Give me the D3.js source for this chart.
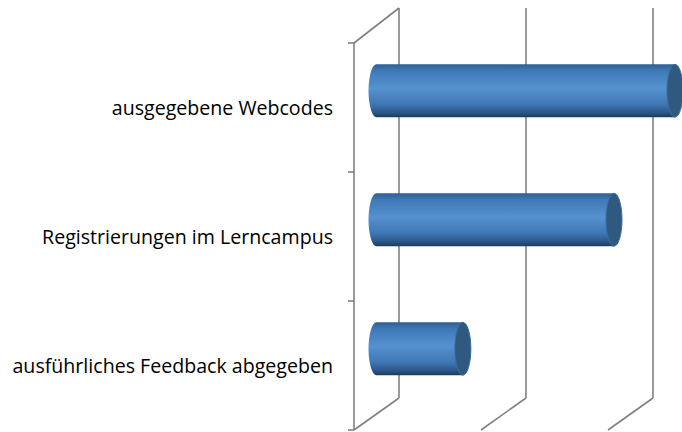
<!DOCTYPE html>
<html>
<head>
<meta charset="utf-8">
<script src="https://cdn.jsdelivr.net/npm/d3@7"></script>
<style>
  body { margin: 0; background: #fff; }
  .label { font-family: "Open Sans", sans-serif; font-size: 19.6px; fill: #000; }
</style>
</head>
<body>
<div id="chart"></div>
<script>
// data
var categories = ["ausgegebene Webcodes", "Registrierungen im Lerncampus", "ausführliches Feedback abgegeben"];
var values = [117.5, 93.5, 34];
var valueTicks = [0, 50, 100];

var svgWidth = 682;
var svgHeight = 432;

// 3d depth of the plot box
var depthX = 45;
var depthTop = -35;
var depthBottom = -32;

var svg = d3.select("#chart")
  .append("svg")
  .attr("width", svgWidth)
  .attr("height", svgHeight);

var x = d3.scaleLinear()
  .domain([0, 100])
  .range([354, 608]);

var y = d3.scaleBand()
  .domain(categories)
  .range([43, 430])
  .paddingInner(0.59)
  .paddingOuter(0.295);

var yTop = y.range()[0];
var yBottom = y.range()[1];

var defs = svg.append("defs");
var grad = defs.append("linearGradient")
  .attr("id", "cyl")
  .attr("x1", 0).attr("y1", 0).attr("x2", 0).attr("y2", 1);
grad.append("stop").attr("offset", "0%").attr("stop-color", "#2f5f93");
grad.append("stop").attr("offset", "12%").attr("stop-color", "#3f78b6");
grad.append("stop").attr("offset", "45%").attr("stop-color", "#5592cf");
grad.append("stop").attr("offset", "75%").attr("stop-color", "#3f78b5");
grad.append("stop").attr("offset", "92%").attr("stop-color", "#2a5585");
grad.append("stop").attr("offset", "100%").attr("stop-color", "#1b3a5c");

var grid = svg.append("g")
  .attr("stroke", "#808080")
  .attr("stroke-width", 1.6)
  .attr("fill", "none");

// back wall gridlines
grid.selectAll(".back")
  .data(valueTicks)
  .enter()
  .append("line")
  .attr("x1", d => x(d) + depthX)
  .attr("x2", d => x(d) + depthX)
  .attr("y1", yTop + depthTop)
  .attr("y2", yBottom + depthBottom);

// floor gridlines
grid.selectAll(".floor")
  .data(valueTicks)
  .enter()
  .append("line")
  .attr("x1", d => x(d))
  .attr("x2", d => x(d) + depthX)
  .attr("y1", yBottom)
  .attr("y2", yBottom + depthBottom);

// side wall top edge
grid.append("line")
  .attr("x1", x(0)).attr("y1", yTop)
  .attr("x2", x(0) + depthX).attr("y2", yTop + depthTop);

// category axis
grid.append("line")
  .attr("x1", x(0)).attr("y1", yTop)
  .attr("x2", x(0)).attr("y2", yBottom);

var tickYs = categories.map(c => y(c) - y.step() * y.paddingInner() / 2);
tickYs.push(yBottom);
grid.selectAll(".tick")
  .data(tickYs)
  .enter()
  .append("line")
  .attr("x1", x(0) - 6)
  .attr("x2", x(0))
  .attr("y1", d => d)
  .attr("y2", d => d);

// cylinders, sitting at half depth
var bars = svg.append("g")
  .attr("transform", `translate(${depthX / 2}, ${(depthTop + depthBottom) / 4})`);

var rx = 8;
var ry = y.bandwidth() / 2;

bars.selectAll(".body")
  .data(values)
  .enter()
  .append("path")
  .attr("fill", "url(#cyl)")
  .attr("d", function(d, i) {
    var cy = y(categories[i]) + ry;
    var x0 = x(0);
    var x1 = x(d);
    return `M${x0},${cy - ry} L${x1},${cy - ry} L${x1},${cy + ry} L${x0},${cy + ry}` +
      ` A${rx},${ry} 0 0 1 ${x0},${cy - ry} Z`;
  });

bars.selectAll(".cap")
  .data(values)
  .enter()
  .append("ellipse")
  .attr("cx", d => x(d))
  .attr("cy", (d, i) => y(categories[i]) + ry)
  .attr("rx", rx)
  .attr("ry", ry)
  .attr("fill", "#30597f")
  .attr("stroke", "#3d6c9c")
  .attr("stroke-width", 1);

// category labels
svg.selectAll(".label")
  .data(categories)
  .enter()
  .append("text")
  .attr("class", "label")
  .attr("x", 333)
  .attr("y", d => y(d) + y.bandwidth() / 2 + 7.5)
  .attr("text-anchor", "end")
  .text(d => d);
</script>
</body>
</html>
